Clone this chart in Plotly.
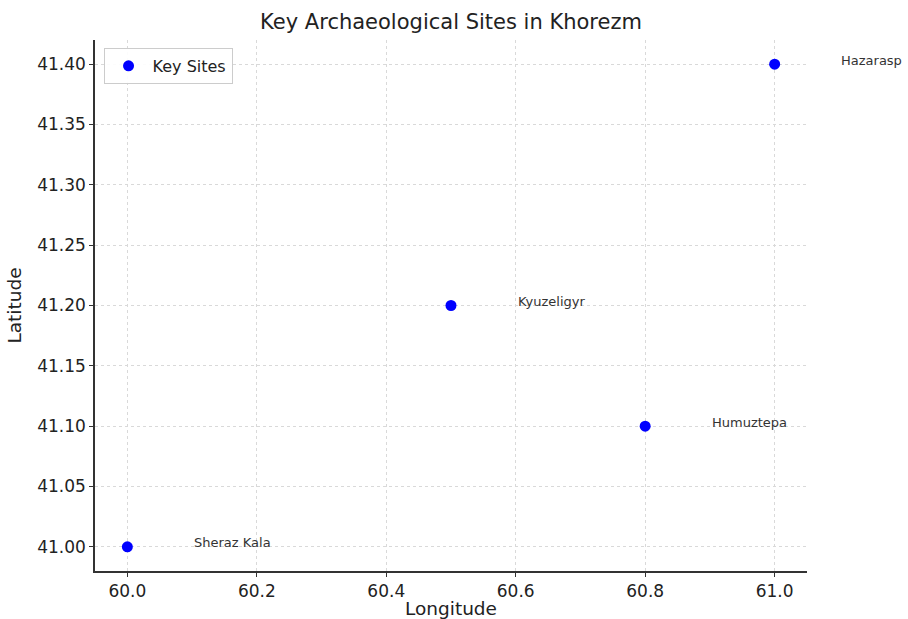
import plotly.graph_objects as go

site_names = ["Sheraz Kala", "Kyuzeligyr", "Humuztepa", "Hazarasp"]
longitudes = [60.0, 60.5, 60.8, 61.0]
latitudes = [41.0, 41.2, 41.1, 41.4]
label_offset = 0.1

font_family = "DejaVu Sans, Liberation Sans, sans-serif"

W, H = 908, 619
M_L, M_R, M_T, M_B = 95, 101, 40, 48
x_range = [59.95, 61.05]
y_range = [40.98, 41.42]
plot_w = W - M_L - M_R
px_per_lon = plot_w / (x_range[1] - x_range[0])

fig = go.Figure()
fig.add_trace(go.Scatter(
    x=longitudes, y=latitudes, mode="markers", name="Key Sites",
    marker=dict(color="#0000ff", size=11),
    showlegend=True, cliponaxis=False,
))

for name, lon, lat in zip(site_names, longitudes, latitudes):
    fig.add_annotation(
        x=lon, y=lat, xref="x", yref="y", text=name,
        showarrow=False, xanchor="left", yanchor="middle",
        xshift=label_offset * px_per_lon, yshift=4,
        font=dict(family=font_family, size=13, color="#333333"),
    )

axis_common = dict(
    showline=True, linecolor="#333333", linewidth=1.5, mirror=False,
    ticks="outside", ticklen=4, tickcolor="#333333",
    showgrid=True, gridcolor="#d9d9d9", griddash="dot", gridwidth=1,
    zeroline=False, automargin=False,
    tickfont=dict(family=font_family, size=17, color="#222222"),
)

fig.update_layout(
    width=W, height=H,
    margin=dict(l=M_L, r=M_R, t=M_T, b=M_B),
    paper_bgcolor="white", plot_bgcolor="white",
    title=dict(text="Key Archaeological Sites in Khorezm", x=451 / W, xanchor="center",
               y=1 - 22 / H, yanchor="middle", yref="container", automargin=False,
               font=dict(family=font_family, size=21, color="#222222")),
    xaxis=dict(range=x_range, dtick=0.2, tick0=60.0, tickformat=".1f",
               title=dict(text="Longitude", standoff=2,
                          font=dict(family=font_family, size=18.5, color="#222222")),
               **axis_common),
    yaxis=dict(range=y_range, dtick=0.05, tick0=41.0, tickformat=".2f",
               title=dict(text="Latitude", standoff=11,
                          font=dict(family=font_family, size=18.5, color="#222222")),
               **axis_common),
    legend=dict(x=0.012, y=0.985, xanchor="left", yanchor="top", itemwidth=38,
                bordercolor="#cccccc", borderwidth=1, bgcolor="rgba(255,255,255,0.9)",
                font=dict(family=font_family, size=16, color="#222222")),
)

fig.write_html(
    "out.html",
    config={"displayModeBar": False},
    post_script="document.body.style.margin='0';document.body.style.overflow='hidden';",
)
